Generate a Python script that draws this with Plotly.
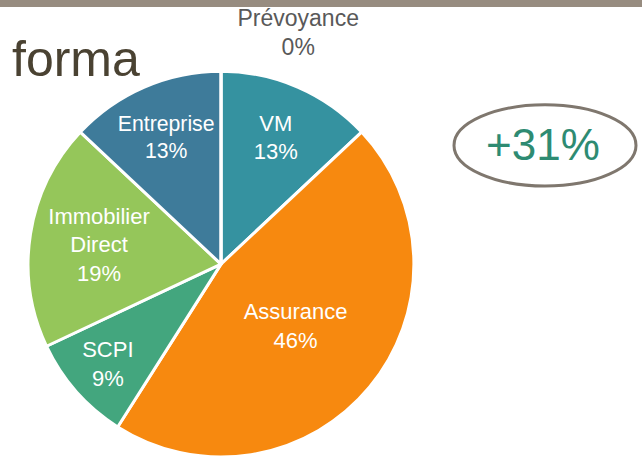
import plotly.graph_objects as go

labels = ["VM", "Assurance", "SCPI", "Immobilier<br>Direct", "Entreprise", "Prévoyance"]
values = [13, 46, 9, 19, 13, 0]
colors = ["#3592a0", "#f7890f", "#43a67e", "#95c65a", "#3e7b9a", "#5b7fa8"]
title_text = "forma"
badge_text = "+31%"

W, H = 642, 462
CX, CY, R = 221, 267, 195

FONT = "Liberation Sans, Arial, sans-serif"
inside_tpl = "%{label}<br>%{percent:.0%}"
outside_tpl = ("<span style='font-size:23px'>%{label}</span><br><br>"
               "<span style='font-size:23px'>%{percent:.0%}</span><br> ")
templates = [inside_tpl] * 5 + [outside_tpl]

fig = go.Figure()
fig.add_trace(go.Pie(
    labels=labels,
    values=values,
    sort=False,
    direction="clockwise",
    rotation=0,
    marker=dict(colors=colors, line=dict(color="white", width=3)),
    texttemplate=templates,
    textposition=["inside", "inside", "inside", "inside", "inside", "outside"],
    insidetextorientation="horizontal",
    textfont=dict(family=FONT, size=22),
    insidetextfont=dict(color="white", family=FONT, size=22),
    outsidetextfont=dict(color="#595959", family=FONT, size=11),
    showlegend=False,
    domain=dict(x=[(CX - R) / W, (CX + R) / W],
                y=[(H - CY - R) / H, (H - CY + R) / H]),
    hoverinfo="skip",
))

fig.add_shape(type="rect", xref="paper", yref="paper",
              x0=0, x1=1, y0=(H - 7) / H, y1=1,
              fillcolor="#978c80", line=dict(width=0), layer="below")
fig.add_shape(type="circle", xref="paper", yref="paper",
              x0=454 / W, x1=636 / W, y0=(H - 188) / H, y1=(H - 106) / H,
              line=dict(color="#7f776e", width=3), fillcolor="rgba(0,0,0,0)")
fig.add_annotation(x=543 / W, y=(H - 146) / H, xref="paper", yref="paper",
                   text=badge_text, showarrow=False,
                   font=dict(family=FONT, size=44, color="#2e8b72"),
                   xanchor="center", yanchor="middle")
fig.add_annotation(x=10 / W, y=(H - 60) / H, xref="paper", yref="paper",
                   text=title_text, showarrow=False,
                   font=dict(family=FONT, size=50, color="#4a4232"),
                   xanchor="left", yanchor="middle")

fig.update_layout(
    width=W, height=H,
    margin=dict(l=0, r=0, t=0, b=0),
    paper_bgcolor="white", plot_bgcolor="white",
)

fig.write_html("out.html", config={"displayModeBar": False},
               post_script="document.body.style.margin='0';document.body.style.overflow='hidden';")
